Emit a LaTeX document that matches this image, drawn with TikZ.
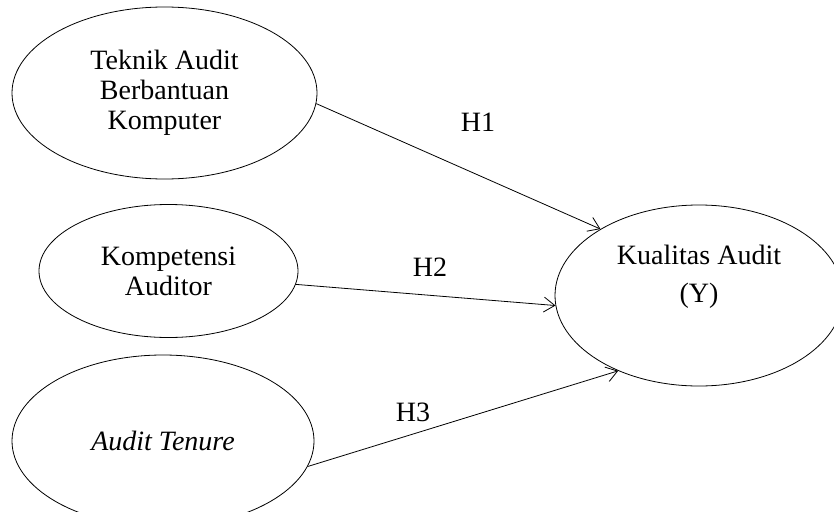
\documentclass[tikz,border=0pt]{standalone}
\usepackage{fontspec}
\setmainfont{Liberation Serif}
\usetikzlibrary{shapes.geometric,arrows.meta}
\begin{document}
\begin{tikzpicture}[x=1pt,y=-1pt,
  every node/.style={font=\fontsize{28}{30}\selectfont},
  var/.style={draw,line width=0.8pt,ellipse,inner sep=0pt,align=center},
  link/.style={line width=0.8pt,-{Straight Barb[length=11pt,width=15pt,line width=0.8pt]}},
  hlab/.style={inner sep=0pt}]
\useasboundingbox (0,0) rectangle (834,511);
\node[var,minimum width=305pt,minimum height=172pt] (x1) at (164.5,93) {Teknik Audit\\Berbantuan\\Komputer};
\node[var,minimum width=259pt,minimum height=133pt] (x2) at (168.5,271) {Kompetensi\\Auditor};
\node[var,minimum width=302pt,minimum height=172pt] (x3) at (163,441) {\itshape Audit Tenure};
\node[var,minimum width=288pt,minimum height=181pt] (y) at (699,295.5) {};
\node[align=center,inner sep=0pt,font=\fontsize{28}{38}\selectfont] (yt) at (699,277) {Kualitas Audit\\(Y)};
\draw[link] (x1.-4.9) -- (y.146.5);
\draw[link] (x2.-6) -- (y.184.6);
\draw[link] (x3.-10.9) -- (y.223.4);
\node[hlab] (h1) at (478,122) {H1};
\node[hlab] (h2) at (430,267) {H2};
\node[hlab] (h3) at (413,412) {H3};
\end{tikzpicture}
\end{document}
